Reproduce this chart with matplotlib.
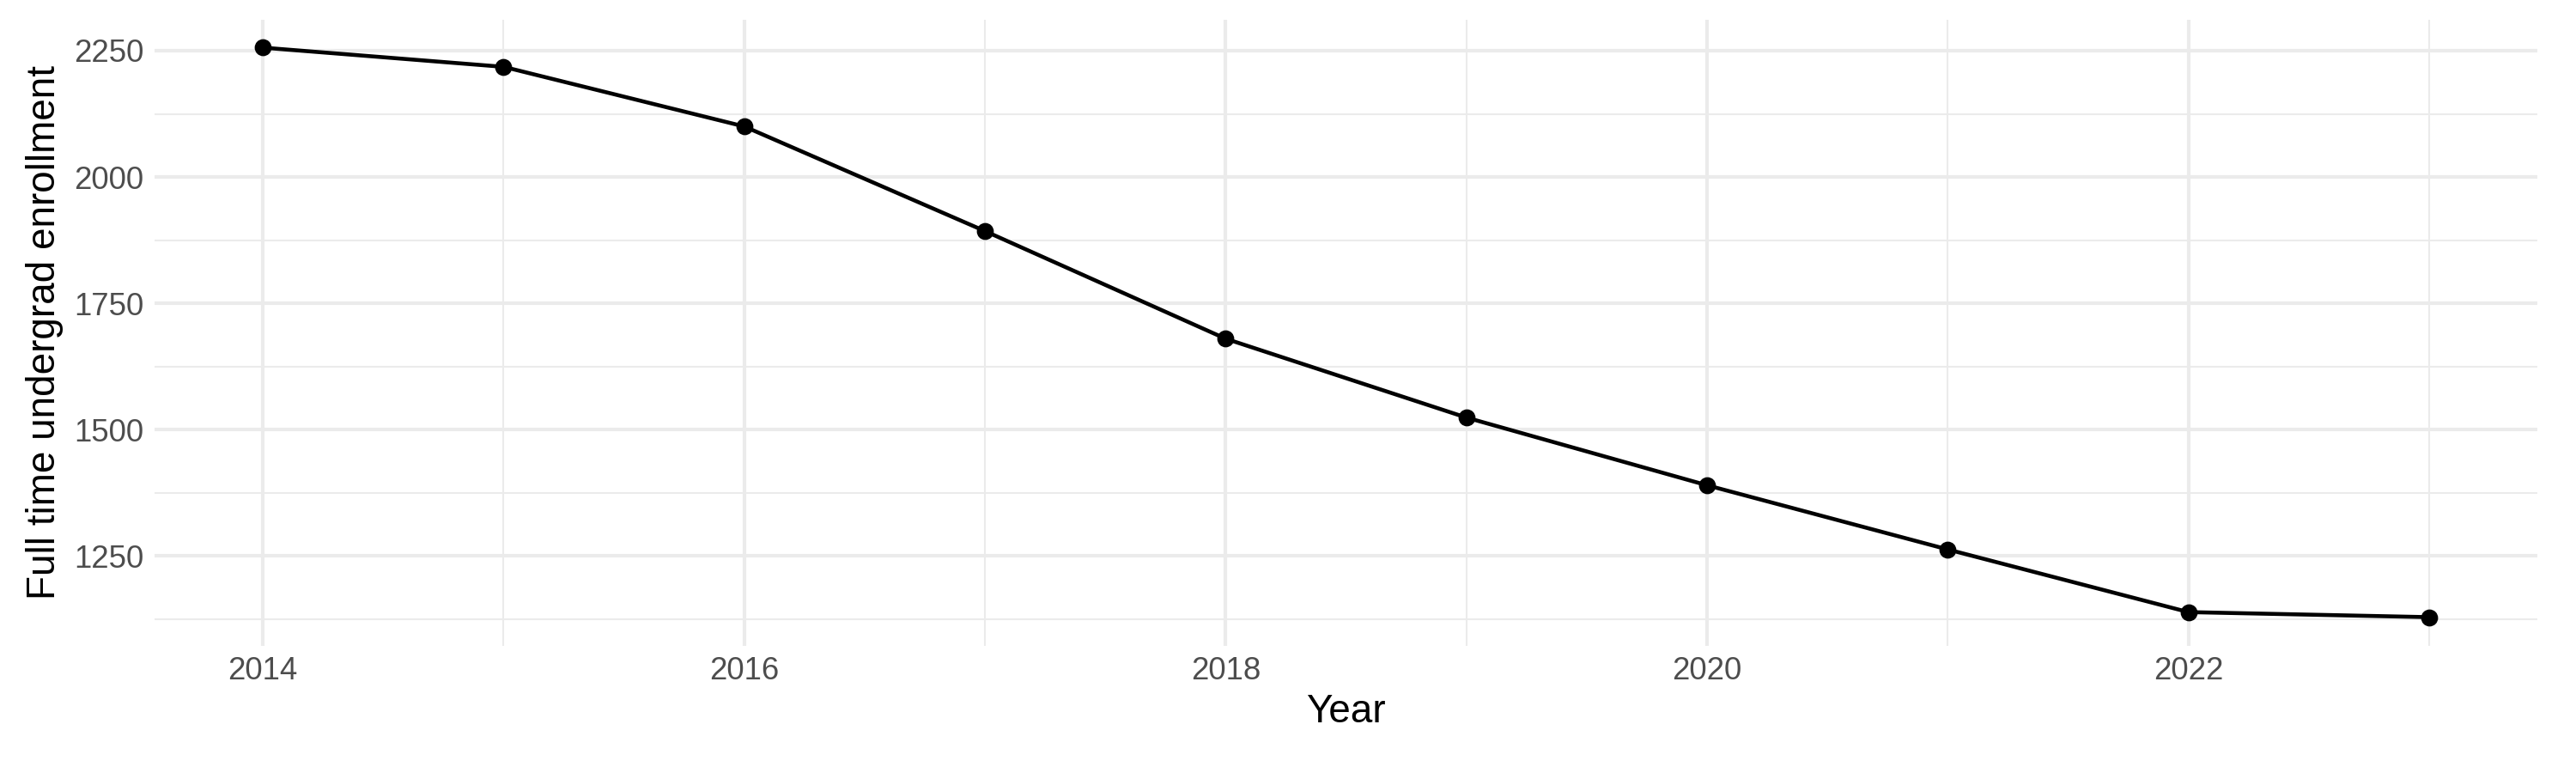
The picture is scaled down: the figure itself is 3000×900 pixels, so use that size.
import matplotlib
matplotlib.use("Agg")
import matplotlib.pyplot as plt
from matplotlib.ticker import MultipleLocator

plt.rcParams['font.family'] = ['Liberation Sans', 'DejaVu Sans']

years = [2014, 2015, 2016, 2017, 2018, 2019, 2020, 2021, 2022, 2023]
enrollment = [2256, 2218, 2100, 1893, 1680, 1524, 1390, 1263, 1139, 1129]

fig, ax = plt.subplots(figsize=(10, 3), dpi=300)
fig.subplots_adjust(left=0.06, right=0.985, top=0.975, bottom=0.165)

ax.plot(years, enrollment, color='black', lw=1.1, zorder=3)
ax.scatter(years, enrollment, color='black', s=14, zorder=4)

ax.xaxis.set_major_locator(MultipleLocator(2))
ax.xaxis.set_minor_locator(MultipleLocator(1))
ax.yaxis.set_major_locator(MultipleLocator(250))
ax.yaxis.set_minor_locator(MultipleLocator(125))
ax.set_xlim(2013.55, 2023.45)
ax.set_ylim(1073, 2312)

ax.grid(which='major', color='#EBEBEB', lw=1.0)
ax.grid(which='minor', color='#EBEBEB', lw=0.5)
ax.set_axisbelow(True)
for s in ax.spines.values():
    s.set_visible(False)
ax.tick_params(which='both', length=0, labelsize=8.8, labelcolor='#4D4D4D', pad=3)

ax.set_xlabel('Year', fontsize=11, labelpad=2)
ax.set_ylabel('Full time undergrad enrollment', fontsize=11, labelpad=3)

fig.savefig('out.png', dpi=300)
